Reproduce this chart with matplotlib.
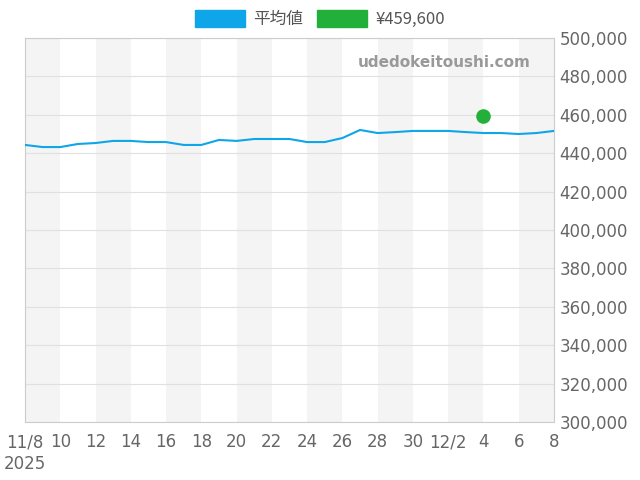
import numpy as np
import pandas as pd
import matplotlib
matplotlib.use("Agg")
import matplotlib.pyplot as plt
from matplotlib.patches import Patch

plt.rcParams['font.family'] = ['DejaVu Sans', 'Noto Sans CJK JP']

fechas = pd.date_range("2025-11-08", "2025-12-08", freq="D")
promedio = [444.3, 443.2, 443.2, 444.8, 445.3, 446.4, 446.4, 445.8, 445.8, 444.3,
            444.3, 446.9, 446.4, 447.4, 447.4, 447.4, 445.8, 445.8, 447.9, 452.1,
            450.5, 451.0, 451.6, 451.6, 451.6, 451.0, 450.5, 450.5, 450.0, 450.5, 451.6]
promedio = np.array(promedio) * 1000
punto_fecha = pd.Timestamp("2025-12-04")
punto_valor = 459600

fig = plt.figure(figsize=(6.4, 4.8), dpi=100)
ax = fig.add_axes([25/640, 1-422/480, (554-25)/640, (422-38)/480])

# bandas grises alternas
for i in range(0, 30, 4):
    d0 = fechas[0] + pd.Timedelta(days=i)
    ax.axvspan(d0, d0 + pd.Timedelta(days=2), color="#f4f4f4", zorder=0, lw=0)

ax.plot(fechas, promedio, color="#0ea5e9", lw=1.5, zorder=3)
ax.scatter([punto_fecha], [punto_valor], s=90, color="#22b03a", zorder=4)

ax.set_xlim(fechas[0], fechas[-1])
ax.set_ylim(300000, 500000)
ax.yaxis.tick_right()
ax.set_yticks(np.arange(300000, 500001, 20000))
ax.yaxis.set_major_formatter(matplotlib.ticker.FuncFormatter(lambda v, p: f"{int(v):,}"))
ax.grid(axis="y", color="#e0e0e0", lw=0.8)
ax.set_axisbelow(True)

ticks = [fechas[0] + pd.Timedelta(days=i) for i in range(0, 31, 2)]
labels = []
for t in ticks:
    if t == fechas[0]:
        labels.append("11/8\n2025")
    elif t.day == 2 and t.month == 12:
        labels.append("12/2")
    else:
        labels.append(str(t.day))
ax.set_xticks(ticks)
ax.set_xticklabels(labels, linespacing=1.3)
ax.tick_params(axis="both", labelsize=12, colors="#666666", length=0)
ax.tick_params(axis="x", pad=8)
ax.tick_params(axis="y", pad=4)
for s in ax.spines.values():
    s.set_color("#cccccc")

ax.text(0.955, 0.935, "udedokeitoushi.com", transform=ax.transAxes, ha="right",
        va="center", fontsize=11, color="#999999", fontweight="bold")

handles = [Patch(color="#0ea5e9"), Patch(color="#22b03a")]
fig.legend(handles, ["平均値", "¥459,600"], loc="upper center", ncol=2, frameon=False,
           bbox_to_anchor=(0.5, 1.01), fontsize=12, handlelength=3, handleheight=1.2,
           handletextpad=0.5, columnspacing=0.8, labelcolor="#555555",
           prop={"family": ["Noto Sans CJK JP", "DejaVu Sans"], "size": 12})

fig.savefig("out.png", dpi=100)
